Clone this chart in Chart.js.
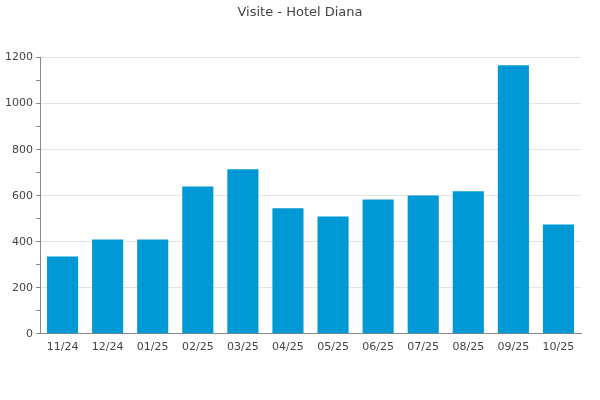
<!DOCTYPE html>
<html><head><meta charset="utf-8">
<script src="https://cdn.jsdelivr.net/npm/chart.js@4/dist/chart.umd.min.js"></script>
<style>html,body{margin:0;padding:0;background:#fff}#w{width:600px;height:400px}</style>
</head><body><div id="w"><canvas id="c"></canvas></div>
<script>
const categories = ['11/24','12/24','01/25','02/25','03/25','04/25','05/25','06/25','07/25','08/25','09/25','10/25'];
const visits = [336, 410, 410, 640, 715, 545, 510, 584, 601, 619, 1167, 475];
const chartTitle = 'Visite - Hotel Diana';

new Chart(document.getElementById('c'), {
  type: 'bar',
  data: { labels: categories, datasets: [{ label: 'Visite', data: visits, backgroundColor: '#0098d5', categoryPercentage: 1, barPercentage: 0.69, yAxisID: 'y' }] },
  options: {
    responsive: true, maintainAspectRatio: false, animation: false,
    layout: { padding: { left: 0, right: 0, top: 0, bottom: 39 } },
    plugins: {
      legend: { display: false },
      tooltip: { enabled: false },
      title: { display: true, text: chartTitle, color: '#444', font: { family: 'DejaVu Sans', size: 13, weight: 'normal' }, padding: { top: 5, bottom: 37 } }
    },
    scales: {
      x: {
        grid: { display: true, drawOnChartArea: false, drawTicks: false, color: '#888' },
        border: { color: '#888' },
        ticks: { color: '#444', font: { family: 'DejaVu Sans', size: 11 }, padding: 7 }
      },
      y: {
        min: 0, max: 1200,
        afterFit: s => { s.width = 40; },
        ticks: { stepSize: 100, autoSkip: false, color: '#444', font: { family: 'DejaVu Sans', size: 11 }, padding: 3,
          callback: v => (v % 200 === 0 ? String(v) : '') },
        grid: { color: c => (c.tick && c.tick.value % 200 === 0 && c.tick.value !== 0 ? '#e3e3e3' : 'rgba(0,0,0,0)'), tickColor: '#888', tickLength: 4 },
        border: { color: '#888' }
      },
      yr: {
        position: 'right', display: true,
        afterFit: s => { s.width = 19; },
        grid: { display: false, drawOnChartArea: false },
        border: { display: false },
        ticks: { display: false }
      }
    }
  }
});
</script></body></html>
